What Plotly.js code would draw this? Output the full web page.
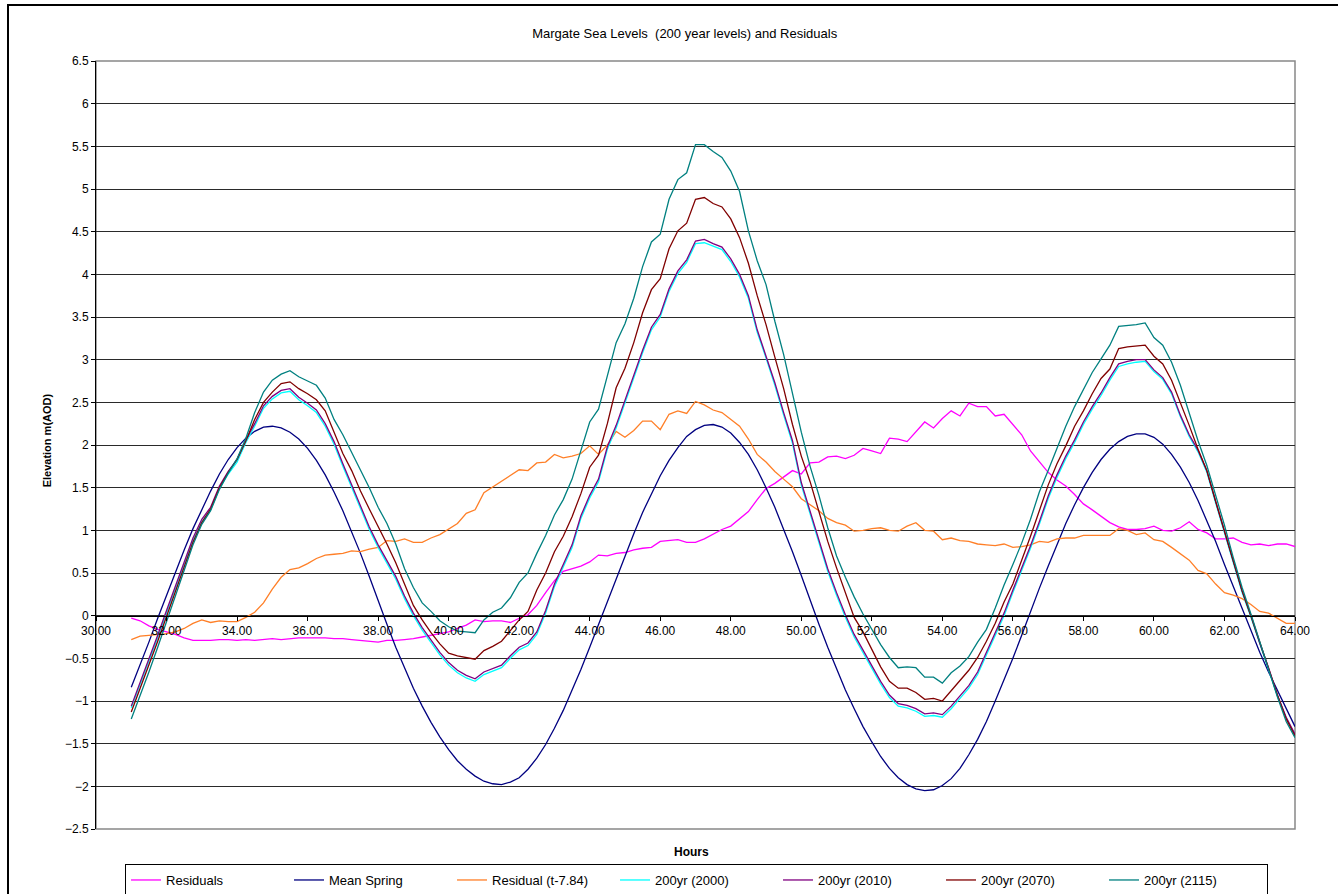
<!DOCTYPE html>
<html>
<head>
<meta charset="utf-8">
<script src="https://cdn.plot.ly/plotly-3.0.1.min.js"></script>
<style>
html,body{margin:0;padding:0;background:#fff;overflow:hidden}
#chart{width:1338px;height:894px}
#frame{position:absolute;left:7px;top:4px;width:1400px;height:1000px;border-left:2px solid #000;border-top:2px solid #000;pointer-events:none}
</style>
</head>
<body>
<div id="chart"></div>
<div id="frame"></div>
<script>
const hours = [
31.00,31.25,31.50,31.75,32.00,32.25,32.50,32.75,
33.00,33.25,33.50,33.75,34.00,34.25,34.50,34.75,
35.00,35.25,35.50,35.75,36.00,36.25,36.50,36.75,
37.00,37.25,37.50,37.75,38.00,38.25,38.50,38.75,
39.00,39.25,39.50,39.75,40.00,40.25,40.50,40.75,
41.00,41.25,41.50,41.75,42.00,42.25,42.50,42.75,
43.00,43.25,43.50,43.75,44.00,44.25,44.50,44.75,
45.00,45.25,45.50,45.75,46.00,46.25,46.50,46.75,
47.00,47.25,47.50,47.75,48.00,48.25,48.50,48.75,
49.00,49.25,49.50,49.75,50.00,50.25,50.50,50.75,
51.00,51.25,51.50,51.75,52.00,52.25,52.50,52.75,
53.00,53.25,53.50,53.75,54.00,54.25,54.50,54.75,
55.00,55.25,55.50,55.75,56.00,56.25,56.50,56.75,
57.00,57.25,57.50,57.75,58.00,58.25,58.50,58.75,
59.00,59.25,59.50,59.75,60.00,60.25,60.50,60.75,
61.00,61.25,61.50,61.75,62.00,62.25,62.50,62.75,
63.00,63.25,63.50,63.75,64.00];

const residuals = [
-0.03,-0.06,-0.12,-0.16,-0.19,-0.22,-0.26,-0.29,
-0.29,-0.29,-0.28,-0.28,-0.29,-0.28,-0.29,-0.28,
-0.27,-0.28,-0.27,-0.26,-0.26,-0.26,-0.26,-0.27,
-0.27,-0.28,-0.29,-0.30,-0.31,-0.29,-0.29,-0.28,
-0.27,-0.25,-0.23,-0.21,-0.19,-0.15,-0.11,-0.05,
-0.07,-0.06,-0.06,-0.08,-0.03,0.01,0.12,0.27,
0.41,0.52,0.55,0.58,0.63,0.71,0.70,0.73,
0.74,0.77,0.79,0.80,0.87,0.88,0.89,0.86,
0.86,0.90,0.96,1.01,1.05,1.13,1.22,1.36,
1.49,1.55,1.62,1.70,1.66,1.79,1.80,1.86,
1.87,1.84,1.88,1.96,1.93,1.90,2.08,2.07,
2.04,2.16,2.27,2.20,2.31,2.40,2.34,2.49,
2.45,2.45,2.34,2.36,2.24,2.12,1.93,1.80,
1.68,1.59,1.52,1.42,1.31,1.24,1.16,1.09,
1.04,1.01,1.01,1.02,1.05,1.00,0.99,1.03,
1.10,1.01,0.97,0.90,0.90,0.91,0.86,0.83,
0.84,0.82,0.84,0.84,0.81];

const meanSpring = [
-0.84,-0.58,-0.31,-0.03,0.24,0.51,0.77,1.02,
1.25,1.46,1.66,1.83,1.97,2.08,2.16,2.21,
2.22,2.20,2.15,2.07,1.96,1.82,1.65,1.45,
1.23,0.99,0.73,0.46,0.17,-0.10,-0.37,-0.62,
-0.85,-1.06,-1.25,-1.42,-1.57,-1.70,-1.80,-1.88,
-1.94,-1.97,-1.98,-1.95,-1.90,-1.80,-1.67,-1.51,
-1.32,-1.11,-0.88,-0.63,-0.37,-0.10,0.17,0.44,
0.70,0.96,1.21,1.43,1.64,1.82,1.97,2.10,
2.18,2.23,2.24,2.21,2.14,2.03,1.89,1.71,
1.50,1.27,1.02,0.75,0.47,0.18,-0.10,-0.37,
-0.63,-0.87,-1.09,-1.30,-1.48,-1.65,-1.79,-1.90,
-1.98,-2.03,-2.05,-2.04,-1.99,-1.91,-1.79,-1.63,
-1.45,-1.24,-1.00,-0.76,-0.50,-0.23,0.05,0.32,
0.58,0.84,1.08,1.30,1.50,1.68,1.83,1.95,
2.04,2.10,2.13,2.13,2.09,2.01,1.89,1.74,
1.56,1.35,1.12,0.87,0.60,0.34,0.07,-0.19,
-0.43,-0.66,-0.88,-1.10,-1.30];

const residualShifted = [
-0.28,-0.24,-0.23,-0.22,-0.21,-0.19,-0.15,-0.09,
-0.05,-0.08,-0.06,-0.07,-0.07,-0.02,0.04,0.15,
0.31,0.45,0.54,0.56,0.61,0.67,0.71,0.72,
0.73,0.76,0.75,0.78,0.80,0.88,0.87,0.90,
0.86,0.86,0.91,0.95,1.01,1.08,1.20,1.24,
1.44,1.51,1.57,1.65,1.71,1.70,1.79,1.80,
1.89,1.85,1.87,1.90,1.99,1.89,2.00,2.16,
2.09,2.17,2.28,2.28,2.18,2.36,2.40,2.37,
2.51,2.47,2.41,2.38,2.30,2.22,2.07,1.89,
1.80,1.69,1.60,1.51,1.37,1.30,1.23,1.14,
1.09,1.06,0.99,1.00,1.02,1.03,1.00,0.99,
1.05,1.09,1.00,0.99,0.89,0.91,0.88,0.87,
0.84,0.83,0.82,0.84,0.80,0.81,0.83,0.87,
0.86,0.90,0.91,0.91,0.94,0.94,0.94,0.94,
1.02,1.00,0.95,0.97,0.89,0.87,0.80,0.73,
0.65,0.53,0.49,0.37,0.27,0.24,0.20,0.13,
0.05,0.03,-0.03,-0.09,-0.09];

const yr2000 = [
-1.08,-0.81,-0.55,-0.26,0.03,0.31,0.60,0.88,
1.10,1.24,1.49,1.66,1.80,2.03,2.22,2.43,
2.54,2.61,2.63,2.53,2.46,2.38,2.22,2.01,
1.75,1.50,1.26,1.01,0.80,0.62,0.43,0.20,
0.00,-0.17,-0.32,-0.46,-0.58,-0.67,-0.73,-0.77,
-0.69,-0.65,-0.61,-0.50,-0.40,-0.35,-0.22,0.03,
0.34,0.57,0.80,1.14,1.38,1.57,1.95,2.20,
2.50,2.80,3.08,3.35,3.50,3.80,4.01,4.14,
4.36,4.37,4.33,4.29,4.15,3.97,3.72,3.32,
3.02,2.70,2.35,2.02,1.53,1.19,0.86,0.52,
0.24,-0.02,-0.25,-0.43,-0.61,-0.80,-0.96,-1.06,
-1.08,-1.12,-1.18,-1.17,-1.19,-1.09,-0.97,-0.85,
-0.69,-0.46,-0.23,0.00,0.27,0.52,0.79,1.07,
1.37,1.62,1.84,2.03,2.24,2.42,2.58,2.76,
2.92,2.95,2.97,2.98,2.86,2.77,2.60,2.33,
2.10,1.92,1.68,1.32,0.97,0.60,0.27,-0.02,
-0.33,-0.62,-0.94,-1.20,-1.40];

const yr2010 = [
-1.06,-0.79,-0.52,-0.23,0.06,0.34,0.63,0.91,
1.13,1.27,1.52,1.69,1.83,2.06,2.25,2.46,
2.57,2.64,2.66,2.56,2.49,2.41,2.25,2.04,
1.78,1.53,1.29,1.04,0.83,0.65,0.46,0.23,
0.03,-0.14,-0.29,-0.43,-0.55,-0.64,-0.70,-0.74,
-0.66,-0.62,-0.58,-0.47,-0.37,-0.32,-0.19,0.06,
0.37,0.60,0.83,1.17,1.41,1.60,1.98,2.23,
2.53,2.83,3.11,3.38,3.53,3.83,4.04,4.17,
4.39,4.41,4.36,4.32,4.18,4.00,3.75,3.35,
3.05,2.73,2.38,2.05,1.56,1.22,0.89,0.55,
0.27,0.01,-0.22,-0.40,-0.58,-0.77,-0.93,-1.03,
-1.05,-1.09,-1.15,-1.14,-1.16,-1.06,-0.94,-0.82,
-0.66,-0.43,-0.20,0.03,0.30,0.55,0.82,1.10,
1.40,1.65,1.87,2.06,2.27,2.45,2.61,2.79,
2.95,2.98,3.00,3.00,2.88,2.79,2.62,2.35,
2.12,1.94,1.70,1.34,0.99,0.62,0.29,0.00,
-0.32,-0.61,-0.93,-1.19,-1.39];

const yr2070 = [
-1.13,-0.86,-0.58,-0.30,-0.01,0.28,0.57,0.86,
1.09,1.25,1.50,1.68,1.83,2.05,2.30,2.50,
2.62,2.72,2.74,2.66,2.60,2.53,2.40,2.14,
1.90,1.70,1.46,1.25,1.05,0.84,0.62,0.38,
0.12,-0.05,-0.20,-0.33,-0.44,-0.47,-0.49,-0.51,
-0.41,-0.36,-0.30,-0.18,-0.05,0.05,0.30,0.50,
0.75,0.93,1.16,1.43,1.74,1.88,2.25,2.67,
2.90,3.20,3.55,3.82,3.95,4.30,4.51,4.60,
4.88,4.90,4.83,4.79,4.65,4.43,4.13,3.75,
3.41,3.03,2.66,2.24,1.87,1.57,1.22,0.87,
0.56,0.27,-0.02,-0.19,-0.39,-0.60,-0.77,-0.85,
-0.85,-0.90,-0.98,-0.97,-1.00,-0.88,-0.77,-0.64,
-0.49,-0.30,-0.09,0.16,0.37,0.64,0.93,1.23,
1.53,1.78,1.99,2.22,2.40,2.60,2.78,2.89,
3.13,3.15,3.16,3.17,3.04,2.95,2.76,2.50,
2.23,1.95,1.70,1.34,0.99,0.62,0.29,0.00,
-0.32,-0.62,-0.93,-1.21,-1.41];

const yr2115 = [
-1.21,-0.94,-0.66,-0.37,-0.07,0.23,0.53,0.83,
1.07,1.23,1.48,1.67,1.84,2.08,2.38,2.62,
2.76,2.83,2.87,2.80,2.75,2.70,2.55,2.30,
2.12,1.91,1.71,1.50,1.27,1.08,0.84,0.55,
0.33,0.15,0.05,-0.06,-0.13,-0.18,-0.19,-0.20,
-0.05,0.04,0.09,0.21,0.39,0.50,0.73,0.94,
1.18,1.36,1.60,1.95,2.27,2.42,2.80,3.20,
3.42,3.72,4.09,4.38,4.47,4.88,5.11,5.19,
5.52,5.52,5.44,5.37,5.21,4.97,4.51,4.16,
3.88,3.45,3.06,2.61,2.15,1.75,1.41,1.03,
0.70,0.45,0.22,0.02,-0.16,-0.34,-0.49,-0.61,
-0.60,-0.61,-0.72,-0.72,-0.79,-0.67,-0.59,-0.48,
-0.31,-0.16,0.09,0.36,0.60,0.85,1.13,1.45,
1.70,1.96,2.22,2.45,2.65,2.85,3.01,3.17,
3.39,3.40,3.41,3.43,3.26,3.17,2.97,2.70,
2.38,2.05,1.76,1.42,1.06,0.68,0.33,0.02,
-0.30,-0.62,-0.95,-1.24,-1.43];

const seriesNames = ["Residuals","Mean Spring","Residual (t-7.84)","200yr (2000)","200yr (2010)","200yr (2070)","200yr (2115)"];
const seriesData = [residuals, meanSpring, residualShifted, yr2000, yr2010, yr2070, yr2115];
const seriesColors = ["#FF00FF","#000080","#FF7F27","#00FFFF","#800080","#800000","#008080"];

const FONT = "Liberation Sans, Arial, sans-serif";

const traces = seriesNames.map((n, i) => ({
  type: "scatter", mode: "lines", name: n,
  x: hours, y: seriesData[i],
  line: {color: seriesColors[i], width: 1.3}
}));

const layout = {
  width: 1338, height: 894,
  paper_bgcolor: "#fff", plot_bgcolor: "#fff",
  font: {family: FONT, color: "#000", size: 12},
  margin: {l: 96, r: 43, t: 61, b: 65, pad: 0, autoexpand: false},
  title: {
    text: "Margate Sea Levels\u00a0 (200 year levels) and Residuals",
    font: {family: FONT, size: 13, color: "#000"},
    x: 0.491, xref: "paper", xanchor: "center",
    y: 1 - 33/894, yref: "container", yanchor: "middle"
  },
  showlegend: true,
  legend: {
    orientation: "h", x: 0.0242, xanchor: "left", y: -0.0456, yanchor: "top",
    bordercolor: "#000", borderwidth: 1, bgcolor: "#fff",
    font: {family: FONT, size: 13, color: "#000"},
    entrywidth: 118, entrywidthmode: "pixels", traceorder: "normal"
  },
  xaxis: {
    range: [30, 64], tick0: 30, dtick: 2, tickformat: ".2f",
    anchor: "free", position: 2.5/9,
    showline: true, linecolor: "#000", linewidth: 1,
    ticks: "outside", ticklen: 4, tickcolor: "#000", tickwidth: 1,
    showgrid: false, zeroline: false,
    tickfont: {family: FONT, size: 12, color: "#000"},
    fixedrange: true
  },
  yaxis: {
    range: [-2.5, 6.5], tick0: 0, dtick: 0.5,
    showline: true, linecolor: "#000", linewidth: 1,
    ticks: "outside", ticklen: 4, tickcolor: "#000", tickwidth: 1,
    showgrid: true, gridcolor: "#2a2a2a", gridwidth: 1, zeroline: false,
    tickfont: {family: FONT, size: 12, color: "#000"},
    fixedrange: true
  },
  shapes: [
    {type: "rect", xref: "paper", yref: "paper", x0: 0, x1: 1, y0: 0, y1: 1,
     line: {color: "#888", width: 1.5}, layer: "between"}
  ],
  annotations: [
    {text: "<b>Hours</b>", xref: "paper", yref: "paper", x: 0.497, y: -0.030,
     xanchor: "center", yanchor: "middle", showarrow: false,
     font: {family: FONT, size: 12, color: "#000"}},
    {text: "<b>Elevation m(AOD)</b>", xref: "paper", yref: "paper", x: -0.0409, y: 0.506,
     xanchor: "center", yanchor: "middle", textangle: -90, showarrow: false,
     font: {family: FONT, size: 11, color: "#000"}}
  ]
};

Plotly.newPlot("chart", traces, layout, {displayModeBar: false, staticPlot: true});
</script>
</body>
</html>
